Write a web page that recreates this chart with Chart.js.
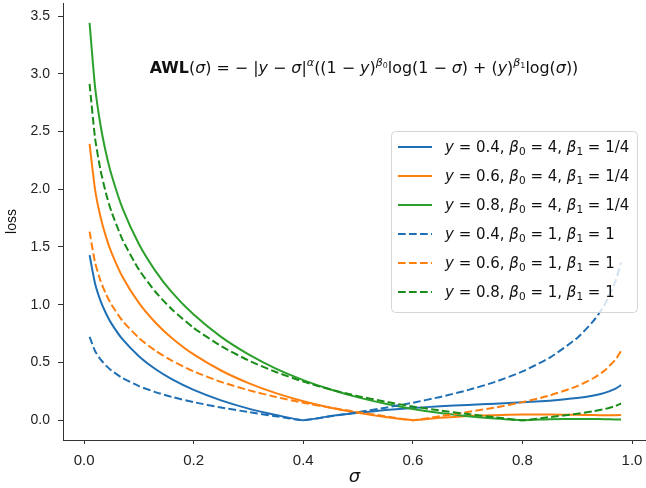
<!DOCTYPE html>
<html>
<head>
<meta charset="utf-8">
<script src="https://cdn.jsdelivr.net/npm/chart.js@4.4.1/dist/chart.umd.min.js"></script>
<style>
    html, body { margin: 0; padding: 0; background: #ffffff; }
    #wrap { width: 646px; height: 488px; }
</style>
</head>
<body>
<div id="wrap"><canvas id="awlChart" width="646" height="488"></canvas></div>
<script>
// sigma samples and loss values
const sigma = [0.01, 0.02, 0.03, 0.04, 0.05, 0.07, 0.10, 0.13, 0.16, 0.20, 0.25, 0.30, 0.35, 0.40, 0.45, 0.50, 0.55, 0.60, 0.65, 0.70, 0.75, 0.80, 0.85, 0.90, 0.93, 0.95, 0.97, 0.98];

const blueSolid = [1.429, 1.183, 1.033, 0.924, 0.836, 0.701, 0.554, 0.443, 0.355, 0.262, 0.171, 0.100, 0.045, 0.000, 0.036, 0.064, 0.087, 0.105, 0.120, 0.132, 0.143, 0.154, 0.169, 0.191, 0.213, 0.236, 0.273, 0.303];
const orangeSolid = [2.392, 1.997, 1.760, 1.587, 1.451, 1.242, 1.015, 0.846, 0.712, 0.569, 0.430, 0.321, 0.234, 0.164, 0.108, 0.063, 0.027, 0.000, 0.020, 0.035, 0.043, 0.048, 0.048, 0.046, 0.044, 0.043, 0.043, 0.045];
const greenSolid = [3.441, 2.886, 2.554, 2.314, 2.125, 1.836, 1.525, 1.293, 1.109, 0.914, 0.721, 0.570, 0.447, 0.347, 0.265, 0.197, 0.142, 0.097, 0.061, 0.034, 0.014, 0.000, 0.008, 0.010, 0.010, 0.008, 0.006, 0.005];
const blueDashed = [0.721, 0.599, 0.526, 0.472, 0.430, 0.365, 0.295, 0.243, 0.201, 0.156, 0.109, 0.070, 0.034, 0.000, 0.034, 0.069, 0.108, 0.151, 0.201, 0.260, 0.331, 0.422, 0.542, 0.712, 0.861, 1.000, 1.206, 1.366];
const orangeDashed = [1.633, 1.366, 1.206, 1.091, 1.000, 0.861, 0.712, 0.602, 0.515, 0.422, 0.331, 0.260, 0.201, 0.151, 0.108, 0.069, 0.034, 0.000, 0.034, 0.070, 0.109, 0.156, 0.214, 0.295, 0.365, 0.430, 0.526, 0.599];
const greenDashed = [2.912, 2.444, 2.165, 1.963, 1.805, 1.564, 1.304, 1.112, 0.961, 0.799, 0.642, 0.517, 0.417, 0.334, 0.265, 0.208, 0.160, 0.118, 0.083, 0.053, 0.025, 0.000, 0.026, 0.055, 0.077, 0.096, 0.123, 0.144];

// legend pieces
const yLabels = ["0.4", "0.6", "0.8", "0.4", "0.6", "0.8"];
const beta0Labels = ["4", "4", "4", "1", "1", "1"];
const beta1Labels = ["1/4", "1/4", "1/4", "1", "1", "1"];

const xTicks = [0.0, 0.2, 0.4, 0.6, 0.8, 1.0];
const yTicks = [0.0, 0.5, 1.0, 1.5, 2.0, 2.5, 3.0, 3.5];

const SERIES = [blueSolid, orangeSolid, greenSolid, blueDashed, orangeDashed, greenDashed];
const COLORS = ["#1f6fb4", "#ff7f0e", "#2ca02c", "#1f6fb4", "#ff7f0e", "#1a8c1a"];
const DASH = [7.7, 3.3];

const MATH_FONT = '"DejaVu Sans", sans-serif';

// draws a list of text pieces, with italic / bold / super- and subscripts
function drawRich(ctx, parts, x, y, size, align) {
    const fontOf = p => {
        let s = size;
        if (p.s === "sup" || p.s === "sub") s = size * 0.7;
        if (p.s === "supsub") s = size * 0.5;
        return (p.f === "i" ? "italic " : "") + (p.f === "b" ? "bold " : "") + s.toFixed(2) + "px " + MATH_FONT;
    };
    const offOf = p => {
        if (p.s === "sup") return -size * 0.42;
        if (p.s === "sub") return size * 0.22;
        if (p.s === "supsub") return -size * 0.30;
        return 0;
    };
    let total = 0;
    const widths = parts.map(p => {
        ctx.font = fontOf(p);
        const w = ctx.measureText(p.t).width;
        total += w;
        return w;
    });
    let cx = align === "center" ? x - total / 2 : x;
    ctx.textBaseline = "alphabetic";
    ctx.textAlign = "left";
    parts.forEach((p, i) => {
        ctx.font = fontOf(p);
        ctx.fillText(p.t, cx, y + offOf(p));
        cx += widths[i];
    });
}

const formulaParts = [
    { t: "AWL", f: "b" }, { t: "(" }, { t: "σ", f: "i" }, { t: ") = − |" }, { t: "y", f: "i" },
    { t: " − " }, { t: "σ", f: "i" }, { t: "|" }, { t: "α", f: "i", s: "sup" },
    { t: "((1 − " }, { t: "y", f: "i" }, { t: ")" }, { t: "β", f: "i", s: "sup" }, { t: "0", s: "supsub" },
    { t: "log(1 − " }, { t: "σ", f: "i" }, { t: ") + (" }, { t: "y", f: "i" }, { t: ")" },
    { t: "β", f: "i", s: "sup" }, { t: "1", s: "supsub" }, { t: "log(" }, { t: "σ", f: "i" }, { t: "))" }
];

const formulaPlugin = {
    id: "formula",
    afterDraw(chart) {
        const ctx = chart.ctx;
        ctx.save();
        ctx.fillStyle = "#111";
        drawRich(ctx, formulaParts, 364, 73, 15.9, "center");
        ctx.restore();
    }
};

const legendPlugin = {
    id: "mplLegend",
    afterDraw(chart) {
        const ctx = chart.ctx;
        const x = 391, y = 131, w = 246, h = 181, r = 4;
        ctx.save();
        ctx.beginPath();
        ctx.roundRect(x + 0.5, y + 0.5, w, h, r);
        ctx.fillStyle = "rgba(255,255,255,0.8)";
        ctx.fill();
        ctx.strokeStyle = "#d6d6d6";
        ctx.lineWidth = 1;
        ctx.stroke();

        chart.data.datasets.forEach((ds, i) => {
            const rowY = 147 + i * 29;
            ctx.beginPath();
            ctx.setLineDash(ds.borderDash || []);
            ctx.strokeStyle = ds.borderColor;
            ctx.lineWidth = ds.borderWidth;
            ctx.moveTo(398, rowY);
            ctx.lineTo(432, rowY);
            ctx.stroke();
            ctx.setLineDash([]);

            ctx.fillStyle = "#111";
            drawRich(ctx, [
                { t: "y", f: "i" }, { t: " = " + yLabels[i] + ", " },
                { t: "β", f: "i" }, { t: "0", s: "sub" }, { t: " = " + beta0Labels[i] + ", " },
                { t: "β", f: "i" }, { t: "1", s: "sub" }, { t: " = " + beta1Labels[i] }
            ], 445, rowY + 5, 15, "left");
        });
        ctx.restore();
    }
};

const datasets = SERIES.map((values, i) => ({
    label: "y=" + yLabels[i] + " b0=" + beta0Labels[i] + " b1=" + beta1Labels[i],
    data: sigma.map((s, k) => ({ x: s, y: values[k] })),
    borderColor: COLORS[i],
    borderWidth: 2,
    borderDash: i >= 3 ? DASH : [],
    pointRadius: 0,
    fill: false,
    tension: 0.2,
    order: SERIES.length - i
}));

new Chart(document.getElementById("awlChart"), {
    type: "line",
    data: { datasets: datasets },
    options: {
        responsive: false,
        devicePixelRatio: 1,
        animation: false,
        layout: { padding: { top: 3, right: 0, bottom: 0, left: 0 } },
        plugins: { legend: { display: false }, tooltip: { enabled: false } },
        scales: {
            x: {
                type: "linear",
                min: -0.0385,
                max: 1.0255,
                afterBuildTicks: scale => { scale.ticks = xTicks.map(v => ({ value: v })); },
                afterFit: scale => {
                    scale.height = 48;
                    scale.paddingLeft = 0;
                    scale.paddingRight = 0;
                },
                grid: { drawOnChartArea: false, drawTicks: true, tickLength: 4, color: "#333" },
                border: { color: "#333", width: 1 },
                ticks: {
                    padding: 8,
                    color: "#222",
                    maxRotation: 0,
                    font: { family: '"Liberation Sans Narrow", "Liberation Sans", sans-serif', size: 15 },
                    callback: v => v.toFixed(1)
                },
                title: {
                    display: true,
                    text: "σ",
                    color: "#111",
                    padding: { top: 0, bottom: 0 },
                    font: { family: MATH_FONT, size: 18, style: "italic" }
                }
            },
            y: {
                min: -0.172,
                max: 3.613,
                afterBuildTicks: scale => { scale.ticks = yTicks.map(v => ({ value: v })); },
                afterFit: scale => {
                    scale.width = 63;
                    scale.paddingTop = 0;
                    scale.paddingBottom = 0;
                },
                grid: { drawOnChartArea: false, drawTicks: true, tickLength: 5, color: "#333" },
                border: { color: "#333", width: 1 },
                ticks: {
                    padding: 8,
                    color: "#222",
                    font: { family: '"Liberation Sans", Arial, sans-serif', size: 14 },
                    callback: v => v.toFixed(1)
                },
                title: {
                    display: true,
                    text: "loss",
                    color: "#111",
                    padding: { top: 4, bottom: 0 },
                    font: { family: '"Liberation Sans", Arial, sans-serif', size: 14 }
                }
            }
        }
    },
    plugins: [formulaPlugin, legendPlugin]
});
</script>
</body>
</html>
